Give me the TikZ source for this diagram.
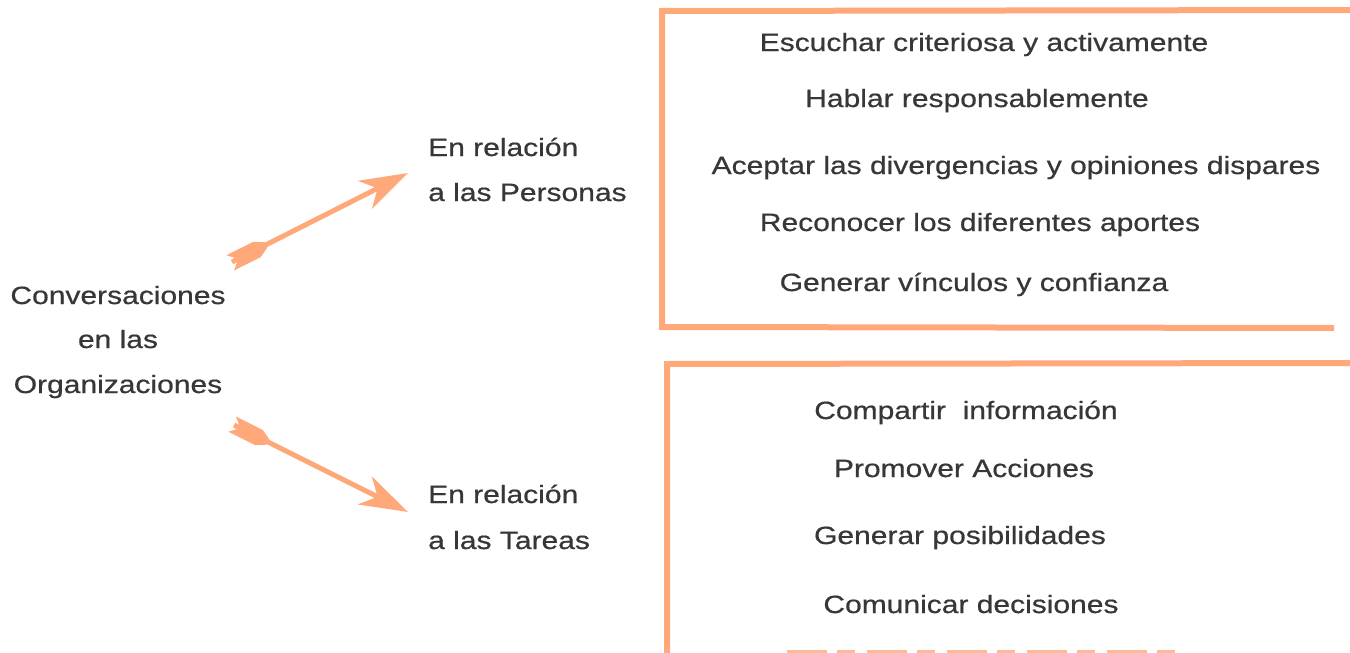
\documentclass[tikz,border=0pt]{standalone}
\usepackage{fontspec}
\setmainfont{Liberation Sans}[FakeStretch=1.2,FakeBold=0.6]
\usetikzlibrary{arrows.meta,calc}
\definecolor{salmon}{RGB}{255,168,122}
\definecolor{txt}{RGB}{55,55,55}
\tikzset{
  lbl/.style={inner sep=0pt,text=txt,font=\fontsize{25}{30}\selectfont},
  item/.style={lbl,anchor=base},
  side/.style={lbl,anchor=base west},
  shaft/.style={draw=salmon,line width=5pt,-{Stealth[length=48pt,width=31pt,inset=14pt]}},
  edge/.style={draw=salmon,line width=6pt,line join=miter},
  fletch/.style={fill=salmon}
}
\begin{document}
\begin{tikzpicture}[x=1pt,y=-1pt]
\useasboundingbox (0,0) rectangle (1350,653);
% left title
\node[item] (c1) at (118,304) {Conversaciones};
\node[item] (c2) at (118,348) {en las};
\node[item] (c3) at (118,393) {Organizaciones};
% middle labels
\node[side] (p1) at (428,156) {En relación};
\node[side] (p2) at (428,201) {a las Personas};
\node[side] (t1l) at (428,503) {En relación};
\node[side] (t2l) at (428,549) {a las Tareas};
% top box items
\node[item] (a1) at (984,51) {Escuchar criteriosa y activamente};
\node[item] (a2) at (977,107) {Hablar responsablemente};
\node[item] (a3) at (1016,174) {Aceptar las divergencias y opiniones dispares};
\node[item] (a4) at (980,231) {Reconocer los diferentes aportes};
\node[item] (a5) at (974,291) {Generar vínculos y confianza};
% bottom box items
\node[item] (b1) at (966,419) {Compartir\ \ información};
\node[item] (b2) at (964,477) {Promover Acciones};
\node[item] (b3) at (960,544) {Generar posibilidades};
\node[item] (b4) at (971,613) {Comunicar decisiones};
% boxes
\coordinate (ta) at (1350,10);
\coordinate (tb) at (662,11);
\coordinate (tc) at (662,327);
\coordinate (td) at (1334,328);
\draw[edge] (ta) -- (tb) -- (tc) -- (td);
\coordinate (ba) at (1350,363);
\coordinate (bb) at (667,364);
\coordinate (bc) at (667,660);
\draw[edge] (ba) -- (bb) -- (bc);
\coordinate (bd) at (787,652);
\coordinate (be) at (1177,652);
\draw[salmon,line width=4pt,opacity=0.8,dash pattern=on 40pt off 10pt on 18pt off 12pt] (bd) -- (be);
% arrows
\coordinate (ut) at (232,262);
\coordinate (uh) at (408,173);
\coordinate (lt) at (234,425);
\coordinate (lh) at (408,512);
\draw[shaft] (ut) -- (uh);
\draw[shaft] (lt) -- (lh);
\begin{scope}[shift={(ut)},rotate=26.8,x=1pt,y=1pt]
  \fill[fletch] (-2,-8.5) -- (28,-8.5) -- (38,-3) -- (38,3) -- (28,8.5) -- (-2,8.5) -- (7,0) -- cycle;
\end{scope}
\begin{scope}[shift={(lt)},rotate=-26.6,x=1pt,y=1pt]
  \fill[fletch] (-2,-8.5) -- (28,-8.5) -- (38,-3) -- (38,3) -- (28,8.5) -- (-2,8.5) -- (7,0) -- cycle;
\end{scope}
\end{tikzpicture}
\end{document}
